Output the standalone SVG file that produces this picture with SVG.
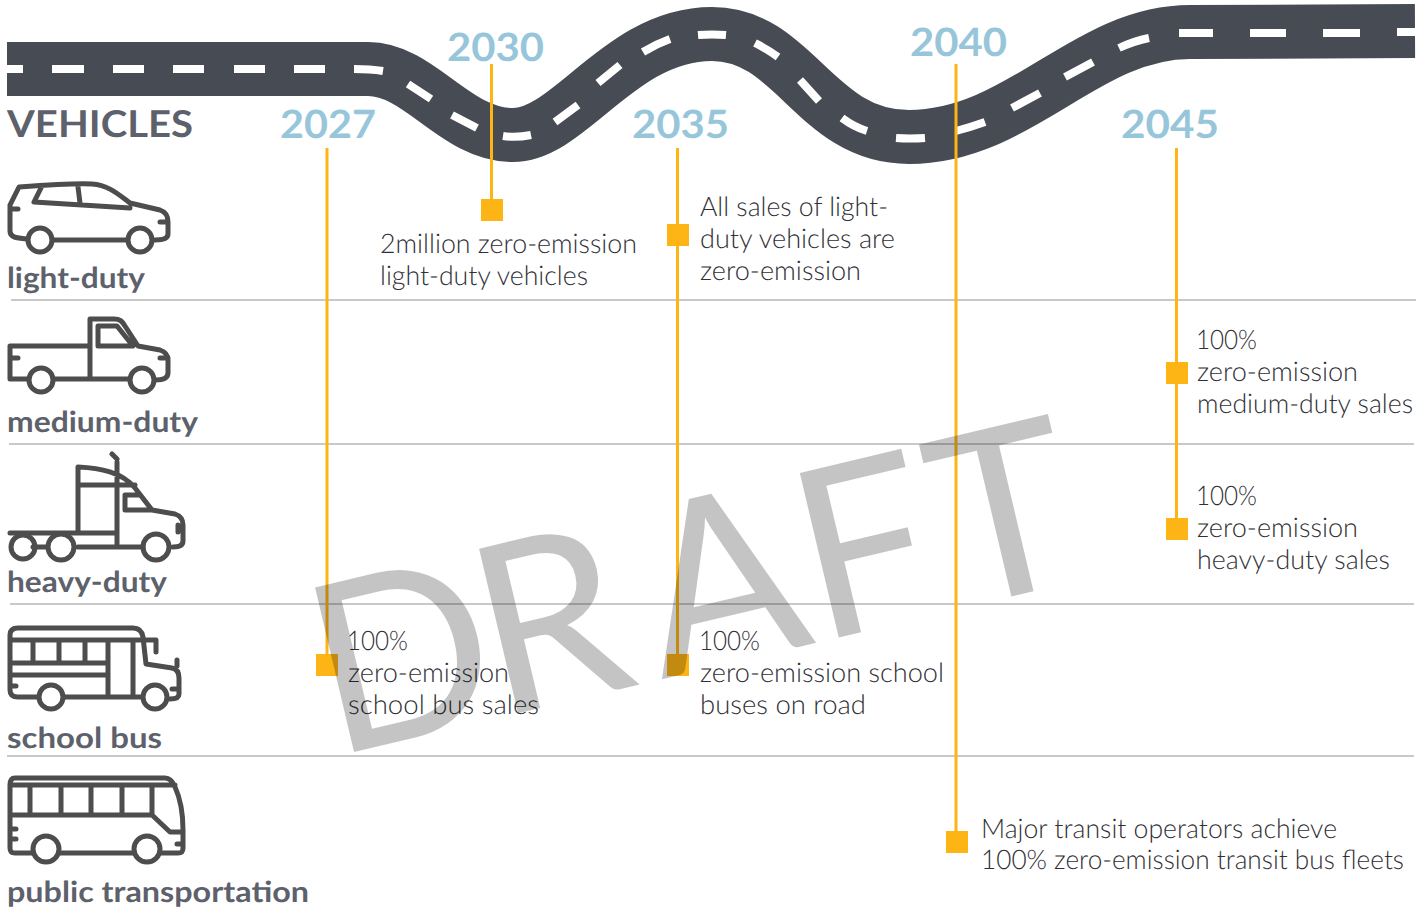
<svg xmlns="http://www.w3.org/2000/svg" width="1428" height="909" viewBox="0 0 1428 909">
<style>
.road{fill:none;stroke:#474b54;stroke-width:54}
.dash{fill:none;stroke:#fff;stroke-width:8}
text{text-rendering:geometricPrecision}
.year{font:700 39px Lato,"Liberation Sans",sans-serif;fill:#97c6da}
.cat{font:700 29px Lato,"Liberation Sans",sans-serif;fill:#5d616b}
.note{font:300 27px Lato,"Liberation Sans",sans-serif;fill:#2f3035}
.sep{stroke:#c9c9c9;stroke-width:2}
.lead{stroke:#fdb515;stroke-width:3}
.mark{fill:#fdb515}
.icon{fill:none;stroke:#4d4d4d;stroke-width:5;stroke-linecap:round;stroke-linejoin:round}
.wm{font:400 236px Lato,"Liberation Sans",sans-serif;fill:#000;fill-opacity:.23}
</style>
<g id="road">
<path class="road" d="M7 69H368C420 69 455 135 513 135C570 135 620 34 712 34C795 34 815 137 909 137C1020 137 1085 32 1190 32L1415 31"/>
<path class="dash" d="M7 69H23M52 69H84M113 69H144M173 69H204M234 69H265M294 69H325M354 69Q370 69 383 71M408 84L431 99M452 115L477 128M503 136Q516 138 531 135M555 122L578 105M598 83L620 65M643 52Q656 44 670 39M698 35Q712 34 726 35M755 43Q767 49 778 57M800 80L819 101M842 118Q854 127 867 131M896 138Q910 139 925 138M956 131Q971 127 985 122M1012 108L1040 93M1065 77L1093 62M1119 48Q1134 41 1149 38M1179 33H1213M1250 33H1286M1323 33H1360M1397 32H1415"/>
</g>
<g id="separators">
<line class="sep" x1="11" y1="300" x2="1416" y2="300"/>
<line class="sep" x1="9" y1="444" x2="1414" y2="444"/>
<line class="sep" x1="10" y1="604" x2="1414" y2="604"/>
<line class="sep" x1="7" y1="756" x2="1414" y2="756"/>
</g>
<g id="connectors">
<line class="lead" x1="327" y1="148" x2="327" y2="666"/>
<line class="lead" x1="491.500" y1="64" x2="491.500" y2="210"/>
<line class="lead" x1="677.500" y1="148" x2="677.500" y2="665"/>
<line class="lead" x1="956" y1="64" x2="956" y2="842"/>
<line class="lead" x1="1176.500" y1="148" x2="1176.500" y2="529"/>
</g>
<g id="years">
<text class="year" x="280" y="137.500" textLength="96" lengthAdjust="spacingAndGlyphs">2027</text>
<text class="year" x="447" y="60.500" textLength="97" lengthAdjust="spacingAndGlyphs">2030</text>
<text class="year" x="632" y="137.500" textLength="97" lengthAdjust="spacingAndGlyphs">2035</text>
<text class="year" x="910" y="55.500" textLength="97" lengthAdjust="spacingAndGlyphs">2040</text>
<text class="year" x="1121" y="137.500" textLength="98" lengthAdjust="spacingAndGlyphs">2045</text>
</g>
<g id="vehicles-heading"><text x="7" y="137" textLength="186" lengthAdjust="spacingAndGlyphs" style="font:700 37px Lato,'Liberation Sans',sans-serif;fill:#5d616b">VEHICLES</text></g>
<g id="light-duty">
<path class="icon" d="M27 239C15 238 10 237 10 231V205L19 187C60 184 78 183 92 184C108 185 118 194 130 203L160 210C166 212 168 216 168 222V234C168 238 165 240 155 240M54 240H126M10 209H18M160 222H168M41 188L34 202L130 208M78 187L80 203"/>
<circle class="icon" cx="40" cy="240" r="12"/><circle class="icon" cx="140" cy="240" r="12"/>
<text class="cat" x="7" y="288" textLength="138" lengthAdjust="spacingAndGlyphs">light-duty</text>
</g>
<g id="medium-duty">
<path class="icon" d="M27 379H10V346H90V319H114C120 319 122 321 125 326L138 346L160 350C166 352 168 355 168 360V373C168 377 165 380 155 380M54 379H128M90 346V379M10 358H18M160 358H168M98 326H117L133 346H98Z"/>
<circle class="icon" cx="41" cy="380" r="12"/><circle class="icon" cx="142" cy="380" r="12"/>
<text class="cat" x="7" y="432" textLength="191" lengthAdjust="spacingAndGlyphs">medium-duty</text>
</g>
<g id="heavy-duty">
<path class="icon" d="M10 533H78V467C100 468 122 472 135 488L152 510L175 514C181 516 183 520 183 525V541C183 545 180 547 173 547M78 485H135M117 462V547M112 454L117 459M78 547H143M125 495V510H152M125 495H140M78 533H117M178 525V532M33 547H47"/>
<circle class="icon" cx="23" cy="547" r="12"/><circle class="icon" cx="61" cy="547" r="13"/><circle class="icon" cx="156" cy="547" r="13"/>
<text class="cat" x="7" y="592" textLength="160" lengthAdjust="spacingAndGlyphs">heavy-duty</text>
</g>
<g id="school-bus">
<path class="icon" d="M38 697H18C13 697 10 695 10 690V635C10 630 13 628 18 628H133C139 628 142 631 143 637L146 664L172 668C177 669 179 673 179 678V694C179 697 177 699 170 699M65 697H140M10 640H156V652M33 640V663M59 640V663M85 640V663M10 663H108M108 640V697M133 640V697M10 675H108M10 686H16M172 689H179M177 660V666"/>
<circle class="icon" cx="51" cy="697" r="12"/><circle class="icon" cx="155" cy="697" r="12"/>
<text class="cat" x="7" y="748" textLength="155" lengthAdjust="spacingAndGlyphs">school bus</text>
</g>
<g id="public-transportation">
<path class="icon" d="M32 853H15C11 853 10 851 10 848V785C10 780 12 778 15 778H165C170 778 173 782 175 787C181 800 183 812 183 830V848C183 851 182 853 178 853H161M60 853H133M10 785H175M10 815H152L170 832H183M30 785V815M61 785V815M91 785V815M122 785V815M152 785V815M10 829H16M10 839H16M177 844H183"/>
<circle class="icon" cx="46" cy="849" r="13"/><circle class="icon" cx="147" cy="849" r="13"/>
<text class="cat" x="7" y="902" textLength="302" lengthAdjust="spacingAndGlyphs">public transportation</text>
</g>
<g id="notes">
<text class="note" x="380" y="253" textLength="257" lengthAdjust="spacingAndGlyphs">2million zero-emission</text>
<text class="note" x="380" y="285" textLength="208" lengthAdjust="spacingAndGlyphs">light-duty vehicles</text>
<text class="note" x="700" y="216" textLength="188" lengthAdjust="spacingAndGlyphs">All sales of light-</text>
<text class="note" x="700" y="248" textLength="195" lengthAdjust="spacingAndGlyphs">duty vehicles are</text>
<text class="note" x="700" y="280" textLength="161" lengthAdjust="spacingAndGlyphs">zero-emission</text>
<text class="note" x="1196" y="349" textLength="61" lengthAdjust="spacingAndGlyphs">100%</text>
<text class="note" x="1197" y="381" textLength="161" lengthAdjust="spacingAndGlyphs">zero-emission</text>
<text class="note" x="1197" y="413" textLength="216" lengthAdjust="spacingAndGlyphs">medium-duty sales</text>
<text class="note" x="1196" y="505" textLength="61" lengthAdjust="spacingAndGlyphs">100%</text>
<text class="note" x="1197" y="537" textLength="161" lengthAdjust="spacingAndGlyphs">zero-emission</text>
<text class="note" x="1197" y="569" textLength="193" lengthAdjust="spacingAndGlyphs">heavy-duty sales</text>
<text class="note" x="347" y="650" textLength="61" lengthAdjust="spacingAndGlyphs">100%</text>
<text class="note" x="348" y="682" textLength="161" lengthAdjust="spacingAndGlyphs">zero-emission</text>
<text class="note" x="348" y="714" textLength="191" lengthAdjust="spacingAndGlyphs">school bus sales</text>
<text class="note" x="699" y="650" textLength="61" lengthAdjust="spacingAndGlyphs">100%</text>
<text class="note" x="700" y="682" textLength="244" lengthAdjust="spacingAndGlyphs">zero-emission school</text>
<text class="note" x="700" y="714" textLength="166" lengthAdjust="spacingAndGlyphs">buses on road</text>
<text class="note" x="981" y="838" textLength="356" lengthAdjust="spacingAndGlyphs">Major transit operators achieve</text>
<text class="note" x="981" y="869" textLength="423" lengthAdjust="spacingAndGlyphs">100% zero-emission transit bus fleets</text>
</g>
<g id="markers">
<rect class="mark" x="316" y="654" width="22" height="22"/>
<rect class="mark" x="481" y="199" width="22" height="22"/>
<rect class="mark" x="667" y="224" width="22" height="22"/>
<rect class="mark" x="667" y="654" width="22" height="22"/>
<rect class="mark" x="946" y="831" width="22" height="22"/>
<rect class="mark" x="1166" y="362" width="22" height="22"/>
<rect class="mark" x="1166" y="518" width="22" height="22"/>
</g>
<text class="wm" transform="translate(333 757) rotate(-13.300)" dx="0 -11 21 1 7">DRAFT</text>
</svg>
